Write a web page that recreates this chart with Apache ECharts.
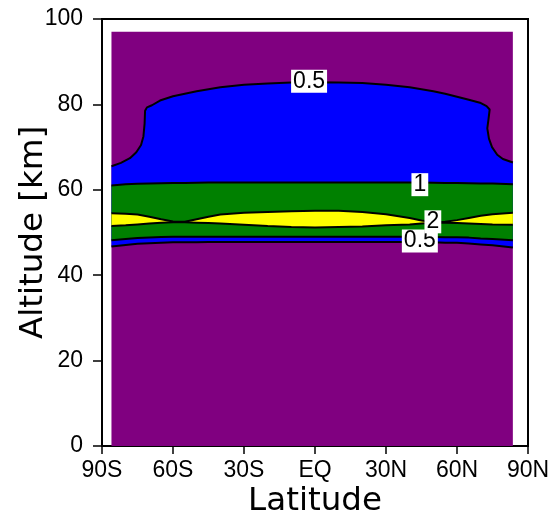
<!DOCTYPE html>
<html>
<head>
<meta charset="utf-8">
<script src="https://cdn.jsdelivr.net/npm/echarts@6/dist/echarts.min.js"></script>
<style>
  html, body { margin: 0; padding: 0; background: #fff; }
  #chart { width: 550px; height: 517px; }
</style>
</head>
<body>
<div id="chart"></div>
<script>
// latitudes used by the lower contour lines (deg, S negative)
var lats = [-86, -80, -75, -70, -65, -60, -55, -50, -45, -40, -30, -20, -10, 0, 10, 20, 30, 40, 45, 50, 55, 60, 65, 70, 75, 83.6];
// altitudes (km) of each contour line at those latitudes
var lo05 = [46.7, 47.1, 47.35, 47.5, 47.6, 47.7, 47.7, 47.7, 47.75, 47.8, 47.8, 47.8, 47.8, 47.8, 47.8, 47.8, 47.8, 47.8, 47.7, 47.7, 47.6, 47.6, 47.4, 47.2, 47.0, 46.5];
var lo1 = [48.2, 48.5, 48.7, 48.85, 48.95, 49.0, 49.0, 49.0, 49.0, 49.0, 49.0, 49.0, 49.0, 49.0, 49.0, 49.0, 49.0, 49.0, 49.0, 48.95, 48.9, 48.9, 48.8, 48.6, 48.5, 48.2];
var lo2 = [51.5, 51.7, 51.9, 52.1, 52.3, 52.4, 52.4, 52.3, 52.2, 52.1, 51.8, 51.5, 51.3, 51.2, 51.3, 51.4, 51.7, 51.9, 52.1, 52.3, 52.3, 52.2, 52.1, 52.0, 51.9, 51.8];
var hi2 = [54.5, 54.4, 54.2, 53.7, 53.1, 52.6, 52.5, 53.1, 53.7, 54.2, 54.6, 54.8, 55.0, 55.1, 55.1, 54.8, 54.3, 53.4, 52.8, 52.4, 52.5, 52.9, 53.4, 53.9, 54.3, 54.6];
var hi1 = [61.0, 61.3, 61.4, 61.5, 61.55, 61.6, 61.6, 61.65, 61.7, 61.7, 61.7, 61.7, 61.7, 61.7, 61.7, 61.7, 61.7, 61.7, 61.7, 61.65, 61.6, 61.6, 61.55, 61.5, 61.5, 61.3];
// upper 0.5 contour has its own latitude list (it turns back on itself near the poles)
var hi05Lat = [-86, -82, -78.2, -75.5, -73.5, -72.5, -72.0, -71.8, -71.0, -68.9, -65.5, -60, -55, -50, -40, -30, -20, -10, 0, 10, 20, 30, 40, 50, 55, 60, 65, 69.7, 72.5, 73.8, 73.3, 72.8, 73.5, 74.8, 77, 79.4, 83.6];
var hi05 = [65.5, 66.3, 67.4, 68.8, 70.5, 72.5, 75.5, 78.5, 79.3, 79.8, 80.9, 81.9, 82.5, 83.1, 84.0, 84.6, 84.9, 85.1, 85.2, 85.1, 85.0, 84.6, 84.0, 83.1, 82.5, 81.8, 81.1, 80.4, 79.6, 78.8, 76.5, 74.4, 72.0, 70.0, 68.2, 67.2, 66.4];
// data domain
var domainLat = [-86, 83.6];
var domainAlt = [0, 97];
// contour labels
var labelText = ['0.5', '1', '0.5', '2'];
var labelLat = [-2.5, 44.3, 44.3, 49.8];
var labelAlt = [85.4, 61.2, 48.0, 52.5];
// axis ticks
var latTicks = [-90, -60, -30, 0, 30, 60, 90];
var latTickText = ['90S', '60S', '30S', 'EQ', '30N', '60N', '90N'];

var fillColors = ['#800080', '#0000ff', '#008000', '#ffff00'];

function zip(xs, ys) {
  return xs.map(function (x, i) { return [x, ys[i]]; });
}

var bands = [
  { lower: [[domainLat[0], domainAlt[0]], [domainLat[1], domainAlt[0]]], upper: [[domainLat[0], domainAlt[1]], [domainLat[1], domainAlt[1]]] },
  { lower: zip(lats, lo05), upper: zip(hi05Lat, hi05) },
  { lower: zip(lats, lo1), upper: zip(lats, hi1) },
  { lower: zip(lats, lo2), upper: zip(lats, hi2) }
];

var lineSets = [zip(lats, lo05), zip(lats, lo1), zip(lats, lo2), zip(lats, hi2), zip(lats, hi1), zip(hi05Lat, hi05)];

var tickFont = 'Liberation Sans';
var titleFont = 'DejaVu Sans';

var chart = echarts.init(document.getElementById('chart'), null, { renderer: 'canvas' });

var series = [{
  type: 'custom',
  clip: true,
  silent: true,
  z: 1,
  data: bands.map(function (b, i) { return [i]; }),
  renderItem: function (params, api) {
    var b = bands[params.dataIndex];
    var pts = b.lower.map(function (p) { return api.coord(p); })
      .concat(b.upper.slice().reverse().map(function (p) { return api.coord(p); }));
    return {
      type: 'polygon',
      shape: { points: pts },
      style: { fill: fillColors[params.dataIndex], stroke: null }
    };
  }
}];

lineSets.forEach(function (d) {
  series.push({
    type: 'line',
    data: d,
    symbol: 'none',
    silent: true,
    z: 3,
    lineStyle: { color: '#000', width: 2 }
  });
});

series.push({
  type: 'scatter',
  symbolSize: 0,
  silent: true,
  z: 5,
  itemStyle: { opacity: 1 },
  data: labelText.map(function (t, i) { return { value: [labelLat[i], labelAlt[i]], name: t }; }),
  label: {
    show: true,
    position: 'inside',
    formatter: '{b}',
    fontFamily: tickFont,
    fontSize: 23,
    lineHeight: 23,
    color: '#000',
    opacity: 1,
    backgroundColor: '#fff',
    padding: [0, 2, 0, 2]
  }
});

chart.setOption({
  animation: false,
  backgroundColor: '#fff',
  grid: {
    left: 102, right: 22, top: 19, bottom: 71,
    outerBoundsMode: 'none',
    show: true,
    borderColor: '#000',
    borderWidth: 2,
    backgroundColor: 'transparent'
  },
  xAxis: {
    type: 'value',
    min: -90, max: 90, interval: 30,
    name: 'Latitude',
    nameLocation: 'middle',
    nameGap: 39,
    nameMoveOverlap: false,
    nameTextStyle: { fontFamily: titleFont, fontSize: 32.5, color: '#000' },
    axisLine: { show: true, onZero: false, lineStyle: { color: '#000', width: 2 } },
    axisTick: { show: true, length: 8, lineStyle: { color: '#000', width: 1.5 } },
    splitLine: { show: false },
    axisLabel: {
      margin: 13,
      fontFamily: tickFont, fontSize: 23, color: '#000',
      formatter: function (v) { return latTickText[latTicks.indexOf(v)]; }
    }
  },
  yAxis: {
    type: 'value',
    min: 0, max: 100, interval: 20,
    name: 'Altitude [km]',
    nameLocation: 'middle',
    nameGap: 52,
    nameMoveOverlap: false,
    nameTextStyle: { fontFamily: titleFont, fontSize: 32.5, color: '#000' },
    axisLine: { show: true, onZero: false, lineStyle: { color: '#000', width: 2 } },
    axisTick: { show: true, length: 9, lineStyle: { color: '#000', width: 1.5 } },
    splitLine: { show: false },
    axisLabel: { margin: 19, fontFamily: tickFont, fontSize: 23, color: '#000' }
  },
  series: series
});
</script>
</body>
</html>
